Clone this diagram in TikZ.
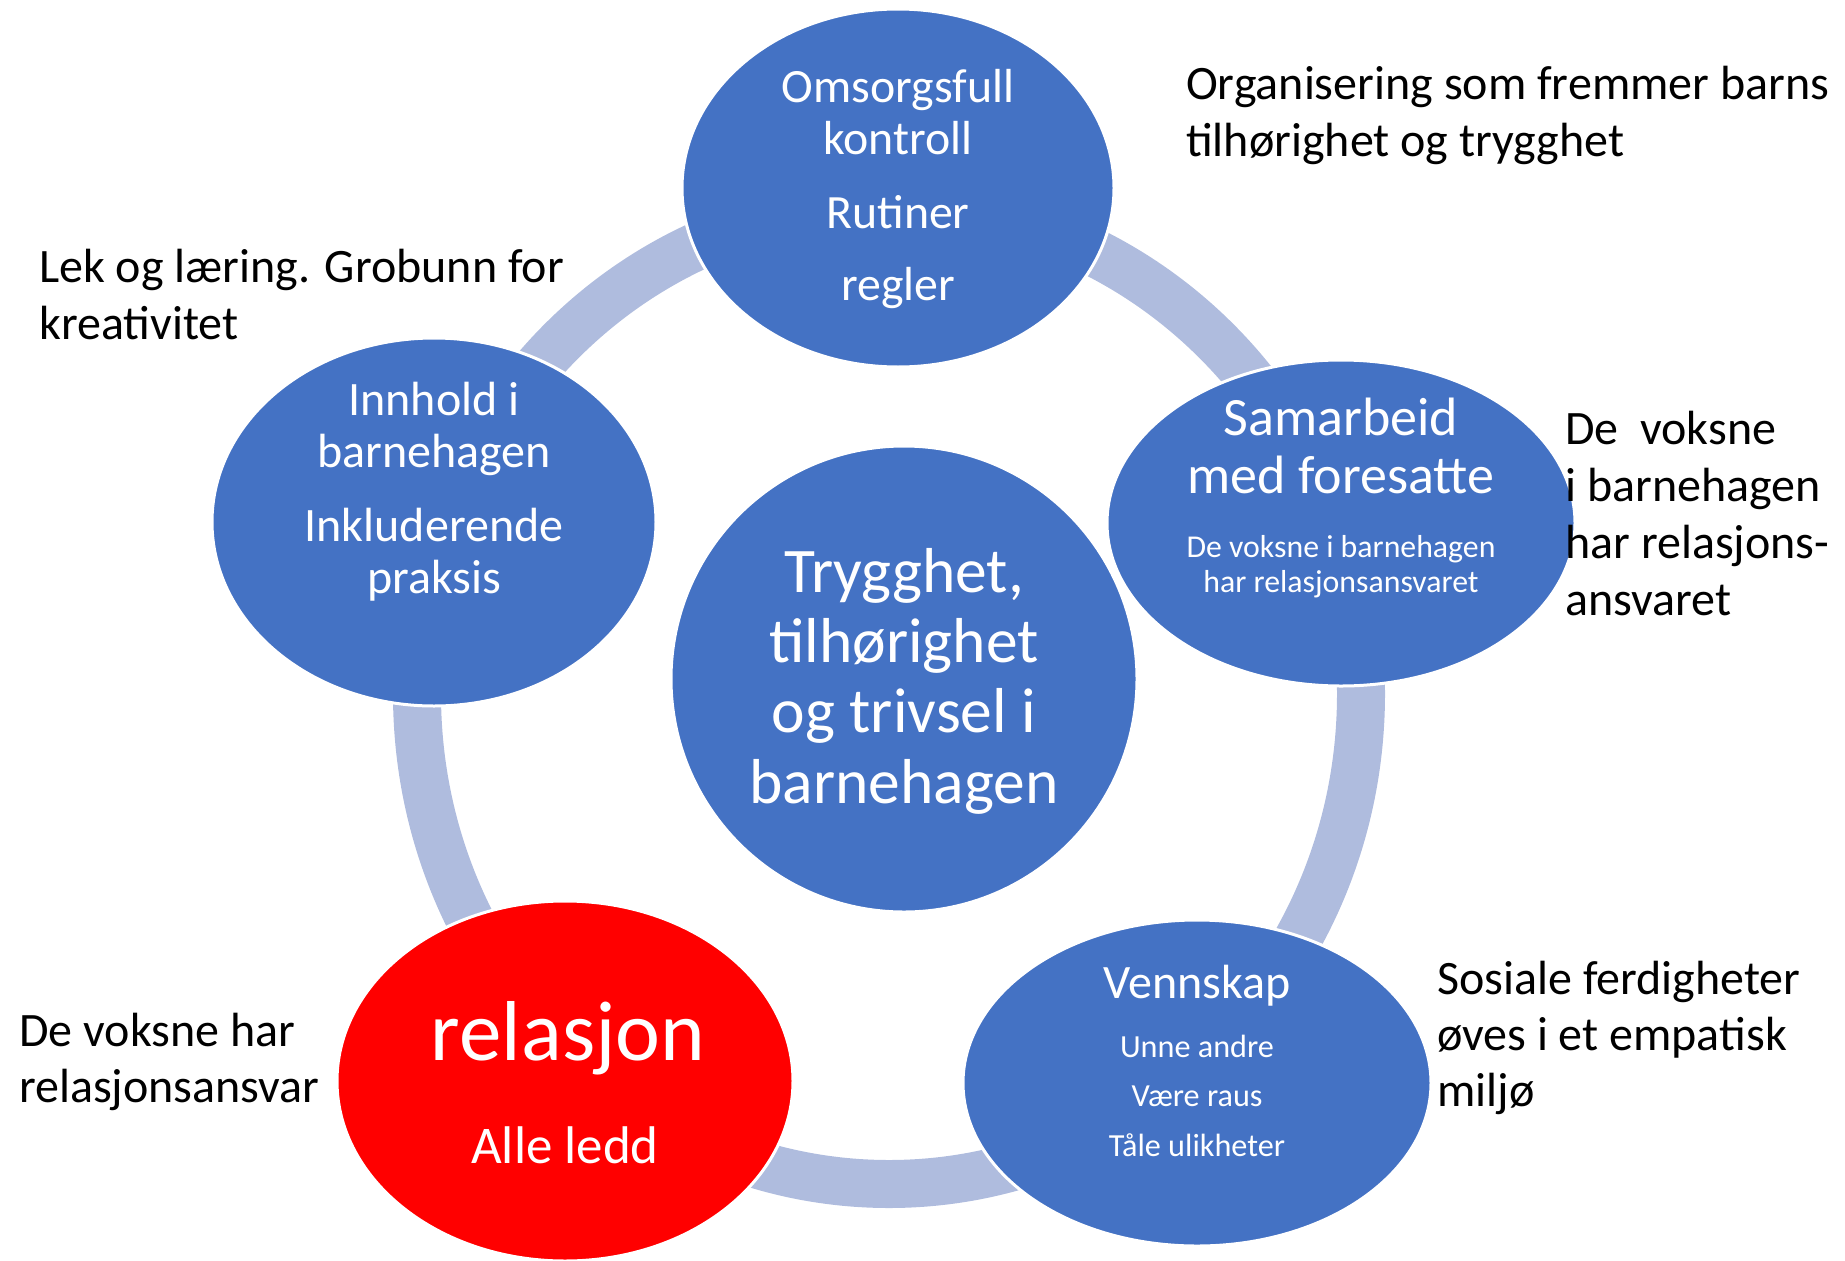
\documentclass[tikz,border=0pt]{standalone}
\usepackage{fontspec}
\setmainfont{Carlito}
\usetikzlibrary{shapes.geometric}
\definecolor{blobblue}{HTML}{4472C4}
\definecolor{ringblue}{HTML}{AFBCDE}
\definecolor{blobred}{HTML}{FF0000}
\tikzset{
  blob/.style={ellipse, inner sep=0pt, draw=white, line width=3pt, fill=blobblue},
  redblob/.style={blob, fill=blobred},
  intext/.style={text=white, align=center, inner sep=0pt, anchor=base},
  outtext/.style={text=black, align=left, inner sep=0pt, anchor=base west},
  ringline/.style={draw=ringblue, line width=48pt}
}
\begin{document}
\begin{tikzpicture}[x=1pt, y=-1pt]
\useasboundingbox (0,0) rectangle (1845,1261);
% ring
\draw[ringline] (889,694) ellipse [x radius=472, y radius=490];
% ellipses
\node[blob, minimum width=432pt, minimum height=358pt] (top) at (898,188) {};
\node[blob, minimum width=444pt, minimum height=368pt] (left) at (434,522) {};
\node[blob, minimum width=468pt, minimum height=326pt] (right) at (1341,523) {};
\node[blob, minimum width=468pt, minimum height=326pt] (botright) at (1197,1083) {};
\node[redblob, minimum width=456pt, minimum height=360pt] (botleft) at (565,1081) {};
\node[blob, minimum width=466pt, minimum height=466pt] (center) at (904,679) {};
% texts inside (anchored at the baseline of the last line)
\node[intext, font=\fontsize{47.8}{52}\selectfont] (toptext) at (898,300)
  {Omsorgsfull\\kontroll\\[22pt]Rutiner\\[20pt]regler};
\node[intext, font=\fontsize{48}{52}\selectfont] (lefttext) at (434,593)
  {Innhold i\\barnehagen\\[22pt]Inkluderende\\praksis};
\node[intext, font=\fontsize{63.5}{70.3}\selectfont] (centertext) at (904,803)
  {Trygghet,\\tilhørighet\\og trivsel i\\barnehagen};
\node[intext, font=\fontsize{54}{58}\selectfont] (righttext) at (1341,493)
  {Samarbeid\\med foresatte};
\node[intext, font=\fontsize{31.8}{35}\selectfont] (rightsub) at (1341,592)
  {De voksne i barnehagen\\har relasjonsansvaret};
\node[intext, font=\fontsize{48}{52}\selectfont] (brtext) at (1197,998)
  {Vennskap};
\node[intext, font=\fontsize{32.2}{49.5}\selectfont] (brsub) at (1197,1156)
  {Unne andre\\Være raus\\Tåle ulikheter};
\node[intext, font=\fontsize{85}{90}\selectfont] (bltext) at (568,1060)
  {relasjon};
\node[intext, font=\fontsize{53}{60}\selectfont] (blsub) at (565,1163)
  {Alle ledd};
% texts outside
\node[outtext, font=\fontsize{48}{56.5}\selectfont] (note1) at (1186,156)
  {Organisering som fremmer barns\\tilhørighet og trygghet};
\node[outtext, font=\fontsize{48}{56.5}\selectfont] (note2) at (39,339)
  {Lek og læring. Grobunn for\\kreativitet};
\node[outtext, font=\fontsize{48}{57}\selectfont] (note3) at (1565,615)
  {De~ voksne\\i barnehagen\\har relasjons-\\ansvaret};
\node[outtext, font=\fontsize{48}{56}\selectfont] (note4) at (1437,1106)
  {Sosiale ferdigheter\\øves i et empatisk\\miljø};
\node[outtext, font=\fontsize{48}{56}\selectfont] (note5) at (19,1102)
  {De voksne har\\relasjonsansvar};
\end{tikzpicture}
\end{document}
